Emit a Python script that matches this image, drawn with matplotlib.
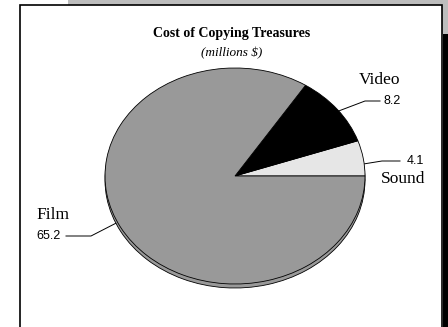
import matplotlib
matplotlib.use("Agg")
import matplotlib.pyplot as plt
from matplotlib.patches import Rectangle

# data
labels = ["Sound", "Video", "Film"]
values = [4.1, 8.2, 65.2]
colors = ["#e6e6e6", "#000000", "#999999"]
title = "Cost of Copying Treasures"
subtitle = "(millions $)"

W, H = 448, 327
fig = plt.figure(figsize=(W / 100, H / 100), dpi=100)

# background axes in pixel coordinates
bg = fig.add_axes([0, 0, 1, 1])
bg.set_xlim(0, W)
bg.set_ylim(H, 0)
bg.axis("off")
bg.add_patch(Rectangle((68, 0), W - 68, 34, facecolor="#bdbdbd", edgecolor="none"))
bg.add_patch(Rectangle((443, 34), 5, H - 34, facecolor="black", edgecolor="none"))
bg.add_patch(Rectangle((20, 5), 422, H, facecolor="white", edgecolor="black", linewidth=1.2))

serif = "Liberation Serif"
sans = "Liberation Sans"
bg.text(232, 33, title, ha="center", va="center", fontsize=10, fontweight="bold", family=serif)
bg.text(232, 53, subtitle, ha="center", va="center", fontsize=9.5, style="italic", family=serif)

# pie: elliptical via non-equal axes scaling
cx, cy, rx, ry = 235, 176, 130, 108
pax = fig.add_axes([(cx - rx) / W, (H - cy - ry) / H, 2 * rx / W, 2 * ry / H])
depth = 4 / ry
pax.pie(values, colors=colors, startangle=0, counterclock=True, radius=1, center=(0, -depth),
        wedgeprops=dict(edgecolor="black", linewidth=0.6))
pax.pie(values, colors=colors, startangle=0, counterclock=True, radius=1, center=(0, 0),
        wedgeprops=dict(edgecolor="black", linewidth=0.6))
pax.set_aspect("auto")
pax.set_xlim(-1, 1)
pax.set_ylim(-1, 1)
pax.axis("off")
for p in pax.patches:
    p.set_clip_on(False)

# labels with leader lines
lab_fs, num_fs = 12.5, 9
bg.text(359, 80, labels[1], ha="left", va="center", fontsize=lab_fs, family=serif)
bg.text(383, 101, f"{values[1]}", ha="left", va="center", fontsize=num_fs, family=sans)
bg.plot([336, 365, 380], [112, 101, 101], color="black", linewidth=0.7)

bg.text(407, 161, f"{values[0]}", ha="left", va="center", fontsize=num_fs, family=sans)
bg.plot([351, 382, 400], [166, 161, 161], color="black", linewidth=0.7)
bg.text(381, 179, labels[0], ha="left", va="center", fontsize=lab_fs, family=serif)

bg.text(36, 215, labels[2], ha="left", va="center", fontsize=lab_fs, family=serif)
bg.text(36, 236, f"{values[2]}", ha="left", va="center", fontsize=num_fs, family=sans)
bg.plot([66, 91, 128], [236, 236, 217], color="black", linewidth=0.7)

fig.savefig("out.png", dpi=100)
